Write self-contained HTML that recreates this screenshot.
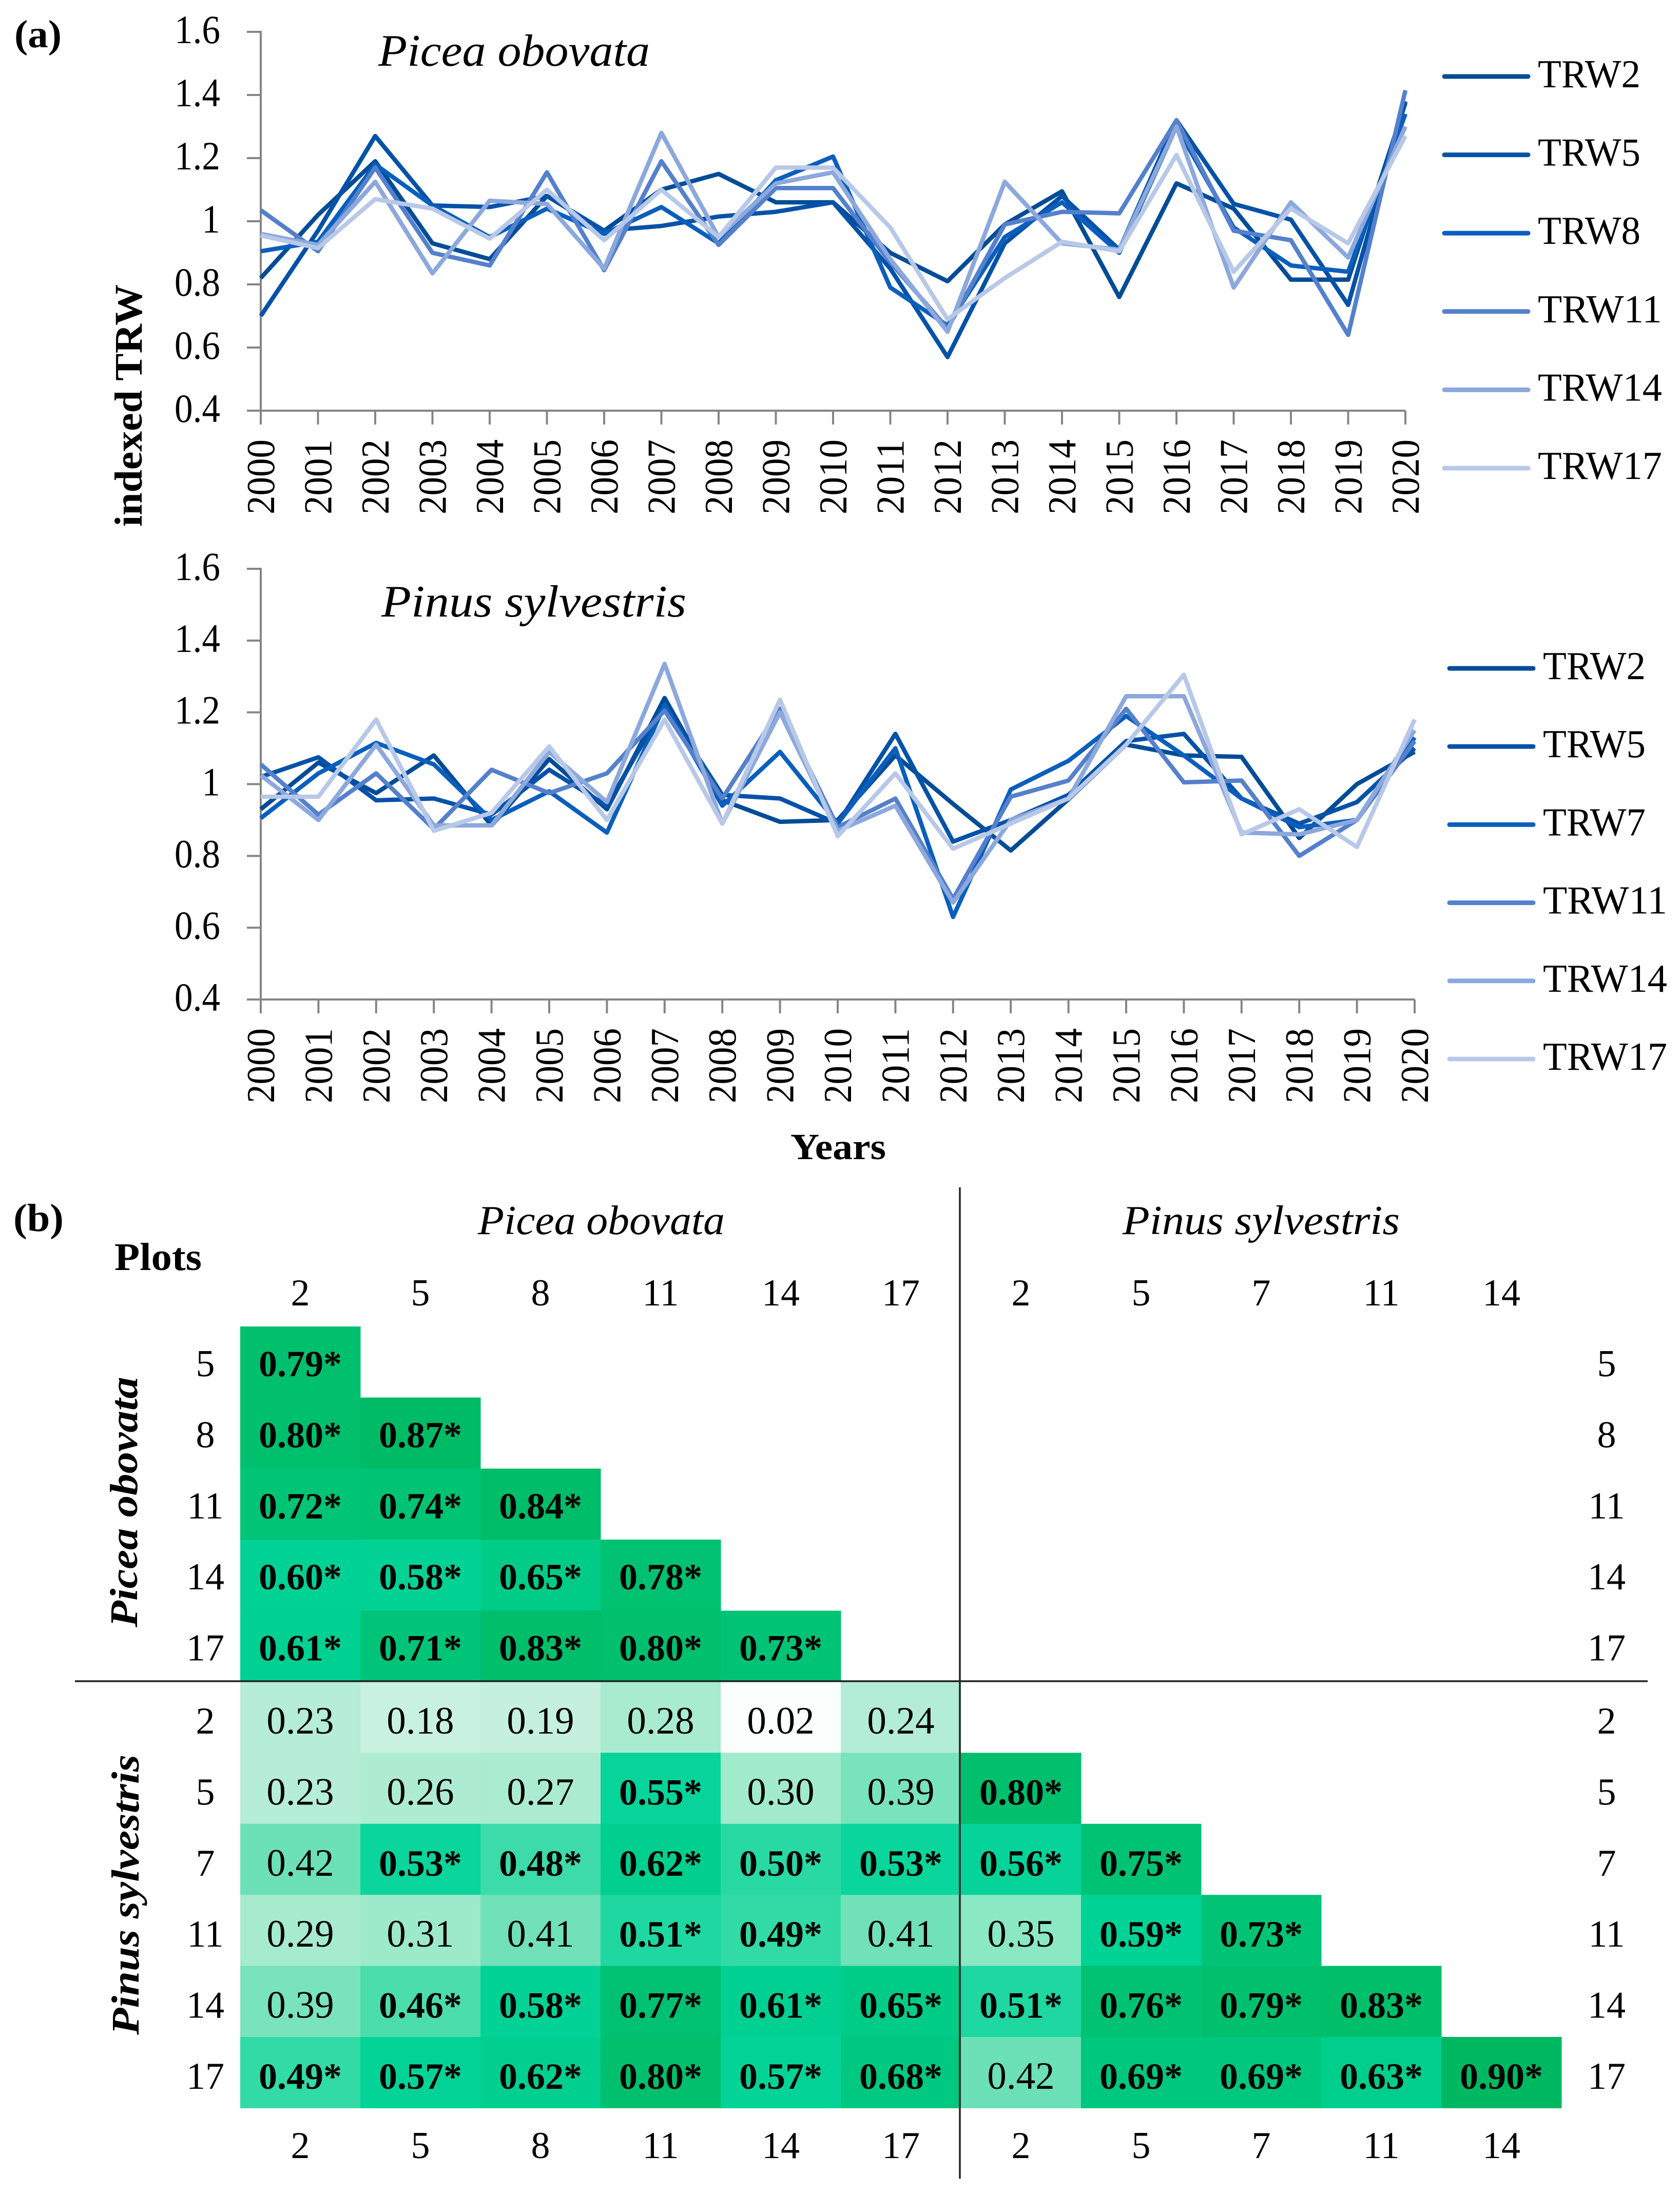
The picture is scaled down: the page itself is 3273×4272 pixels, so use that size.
<!DOCTYPE html>
<html lang="en">
<head>
<meta charset="utf-8">
<title>TRW indexed chronologies and correlation matrix</title>
<style>
html,body{margin:0;padding:0;background:#fff;}
svg{display:block;}
text{font-family:"Liberation Serif","DejaVu Serif",serif;fill:#000;}
</style>
</head>
<body>
<svg id="figure" xmlns="http://www.w3.org/2000/svg" width="3273" height="4272" viewBox="0 0 3273 4272">
  <rect x="0" y="0" width="3273" height="4272" fill="#ffffff"/>
  <text x="28" y="92" font-size="76" font-weight="bold" textLength="92" lengthAdjust="spacingAndGlyphs">(a)</text>
  <text x="26" y="2398" font-size="76" font-weight="bold" textLength="98" lengthAdjust="spacingAndGlyphs">(b)</text>
  <text x="737" y="128" font-size="88" font-style="italic" textLength="529" lengthAdjust="spacingAndGlyphs">Picea obovata</text>
  <text x="743" y="1201" font-size="88" font-style="italic" textLength="594" lengthAdjust="spacingAndGlyphs">Pinus sylvestris</text>
  <text transform="translate(276,1026) rotate(-90)" font-size="76" font-weight="bold" textLength="472" lengthAdjust="spacingAndGlyphs">indexed TRW</text>
  <text x="1540" y="2258" font-size="72" font-weight="bold" textLength="186" lengthAdjust="spacingAndGlyphs">Years</text>
  <text x="223" y="2474" font-size="76" font-weight="bold" textLength="170" lengthAdjust="spacingAndGlyphs">Plots</text>
  <text x="931" y="2404" font-size="80" font-style="italic" textLength="481" lengthAdjust="spacingAndGlyphs">Picea obovata</text>
  <text x="2187" y="2404" font-size="80" font-style="italic" textLength="540" lengthAdjust="spacingAndGlyphs">Pinus sylvestris</text>
  <text transform="translate(267,3170) rotate(-90)" font-size="76" font-style="italic" font-weight="bold" textLength="488" lengthAdjust="spacingAndGlyphs">Picea obovata</text>
  <text transform="translate(270,3964) rotate(-90)" font-size="76" font-style="italic" font-weight="bold" textLength="546" lengthAdjust="spacingAndGlyphs">Pinus sylvestris</text>
  <g id="charts"></g>
  <g id="matrix"></g>
</svg>
<script>
// ---- line chart data ----
const years = ["2000","2001","2002","2003","2004","2005","2006","2007","2008","2009","2010","2011","2012","2013","2014","2015","2016","2017","2018","2019","2020"];
const yTickValues = [0.4,0.6,0.8,1.0,1.2,1.4,1.6];
const yTickLabels = ["0.4","0.6","0.8","1","1.2","1.4","1.6"];
const seriesColors = ["#004c97","#0452a8","#0a5fbd","#5480cc","#8ca8dc","#b8c8e8"];

const piceaNames = ["TRW2","TRW5","TRW8","TRW11","TRW14","TRW17"];
const piceaTRW2  = [0.82,1.02,1.19,0.93,0.88,1.08,0.97,1.10,1.15,1.06,1.06,0.90,0.81,0.99,1.095,0.76,1.12,1.04,0.815,0.815,1.375];
const piceaTRW5  = [0.70,0.97,1.27,1.05,1.045,1.08,0.97,0.985,1.015,1.03,1.06,0.85,0.57,0.93,1.08,0.91,1.32,1.055,1.005,0.735,1.38];
const piceaTRW8  = [0.905,0.935,1.18,1.05,0.95,1.04,0.96,1.045,0.93,1.13,1.205,0.79,0.67,0.95,1.06,0.90,1.30,0.98,0.86,0.84,1.34];
const piceaTRW11 = [1.035,0.905,1.17,0.90,0.86,1.155,0.845,1.19,0.925,1.105,1.105,0.87,0.66,0.99,1.03,1.025,1.32,0.97,0.94,0.64,1.415];
const piceaTRW14 = [0.96,0.925,1.125,0.835,1.065,1.055,0.85,1.28,0.95,1.12,1.155,0.88,0.65,1.125,0.93,0.91,1.30,0.79,1.06,0.885,1.30];
const piceaTRW17 = [0.955,0.915,1.07,1.04,0.945,1.10,0.94,1.10,0.95,1.17,1.17,0.98,0.69,0.82,0.935,0.905,1.21,0.84,1.04,0.93,1.27];

const pinusNames = ["TRW2","TRW5","TRW7","TRW11","TRW14","TRW17"];
const pinusTRW2  = [0.93,1.06,0.975,1.08,0.885,1.07,0.93,1.24,0.955,0.895,0.90,1.08,0.945,0.815,0.958,1.11,1.08,1.076,0.85,1.00,1.09];
const pinusTRW5  = [1.02,1.075,0.955,0.96,0.915,1.04,0.94,1.22,0.97,0.96,0.89,1.14,0.84,0.90,0.97,1.12,1.14,0.96,0.89,0.95,1.10];
const pinusTRW7  = [0.905,1.03,1.115,1.055,0.90,0.98,0.865,1.22,0.94,1.09,0.89,1.10,0.63,0.985,1.065,1.19,1.08,0.96,0.88,0.90,1.13];
const pinusTRW11 = [1.055,0.915,1.03,0.875,1.04,0.975,1.03,1.205,0.96,1.21,0.88,0.96,0.68,0.965,1.01,1.21,1.005,1.01,0.80,0.90,1.12];
const pinusTRW14 = [1.025,0.90,1.11,0.885,0.885,1.09,0.95,1.335,0.89,1.20,0.87,0.94,0.67,0.90,0.96,1.245,1.245,0.865,0.86,0.90,1.15];
const pinusTRW17 = [0.965,0.965,1.18,0.87,0.92,1.105,0.90,1.18,0.89,1.235,0.855,1.03,0.82,0.89,0.96,1.11,1.305,0.86,0.93,0.825,1.18];

// ---- correlation matrix data ----
const columnLabels = ["2","5","8","11","14","17","2","5","7","11","14"];
const rowLabels = ["5","8","11","14","17","2","5","7","11","14","17"];
const correlationRows = [
  [0.79],
  [0.80,0.87],
  [0.72,0.74,0.84],
  [0.60,0.58,0.65,0.78],
  [0.61,0.71,0.83,0.80,0.73],
  [0.23,0.18,0.19,0.28,0.02,0.24],
  [0.23,0.26,0.27,0.55,0.30,0.39,0.80],
  [0.42,0.53,0.48,0.62,0.50,0.53,0.56,0.75],
  [0.29,0.31,0.41,0.51,0.49,0.41,0.35,0.59,0.73],
  [0.39,0.46,0.58,0.77,0.61,0.65,0.51,0.76,0.79,0.83],
  [0.49,0.57,0.62,0.80,0.57,0.68,0.42,0.69,0.69,0.63,0.90]
];
const significanceThreshold = 0.45;
const colorStopValues = [0.02,0.18,0.23,0.29,0.35,0.42,0.48,0.53,0.60,0.72,0.84,0.90];
const colorStopHex = ["#fafefc","#c9f1e0","#b5edd6","#a6ebce","#8ae8c3","#6ce0b6","#3cdba9","#0ad59c","#00d194","#00c476","#00bd69","#00b861"];

const NS = "http://www.w3.org/2000/svg";
function make(tag, parent, attrs, txt){
  const e = document.createElementNS(NS, tag);
  for (const k in attrs) e.setAttribute(k, attrs[k]);
  if (txt !== undefined) e.textContent = txt;
  parent.appendChild(e);
  return e;
}
function slug(s){ return s.toLowerCase(); }

function drawChart(cfg){
  const root = document.getElementById("charts");
  const g = make("g", root, {});
  
  
  const xScale = i => cfg.x0 + (cfg.x1 - cfg.x0) * i / (years.length - 1);
  const yScale = v => cfg.yBottom + (cfg.yTop - cfg.yBottom) * (v - 0.4) / 1.2;
  const axisStyle = {stroke:"#858585","stroke-width":4,fill:"none"};

  const yAxis = make("line", g, Object.assign({x1:cfg.x0,x2:cfg.x0,y1:yScale(1.6)-2,y2:yScale(0.4)+2}, axisStyle));
  
  
  const xAxis = make("line", g, Object.assign({x1:cfg.x0,x2:cfg.x1,y1:yScale(0.4),y2:yScale(0.4)}, axisStyle));
  
  

  yTickValues.forEach((v,i) => {
    const t = make("line", g, Object.assign({x1:cfg.x0-27,x2:cfg.x0,y1:yScale(v),y2:yScale(v)}, axisStyle));
    
    
    const lab = yTickLabels[i];
    const l = make("text", g, {x:429,y:yScale(v)+22,"font-size":78,"text-anchor":"end",textLength:lab.length>1?89:36,lengthAdjust:"spacingAndGlyphs"}, lab);
    
    
  });
  years.forEach((yr,i) => {
    const x = xScale(i);
    const t = make("line", g, Object.assign({x1:x,x2:x,y1:yScale(0.4),y2:yScale(0.4)+27}, axisStyle));
    
    
    const l = make("text", g, {transform:`translate(${x+26},${cfg.labelTop}) rotate(-90)`,"font-size":77,"text-anchor":"end",textLength:146,lengthAdjust:"spacingAndGlyphs"}, yr);
    
    
  });

  cfg.series.forEach((vals,si) => {
    const pts = vals.map((v,i) => xScale(i).toFixed(1) + "," + yScale(v).toFixed(1)).join(" ");
    const p = make("polyline", g, {points:pts,fill:"none",stroke:seriesColors[si],"stroke-width":8.5,"stroke-linejoin":"round"});
    
    
  });

  cfg.names.forEach((name,si) => {
    const y = cfg.legendTop + cfg.legendStep * si;
    const item = make("g", g, {});
    
    
    make("line", item, {x1:cfg.legendX+4,x2:cfg.legendX+167,y1:y,y2:y,stroke:seriesColors[si],"stroke-width":9,"stroke-linecap":"round"});
    const wide = name.length > 4;
    make("text", item, {x:cfg.legendX+186,y:y+21,"font-size":77,textLength:wide?242:200,lengthAdjust:"spacingAndGlyphs"}, name);
  });
}

drawChart({id:"picea",x0:508,x1:2738,yTop:62,yBottom:800,labelTop:856,legendX:2810,legendTop:149,legendStep:152.6,names:piceaNames,
  series:[piceaTRW2,piceaTRW5,piceaTRW8,piceaTRW11,piceaTRW14,piceaTRW17]});
drawChart({id:"pinus",x0:508,x1:2756,yTop:1108,yBottom:1947,labelTop:2003,legendX:2820,legendTop:1302,legendStep:152.2,names:pinusNames,
  series:[pinusTRW2,pinusTRW5,pinusTRW7,pinusTRW11,pinusTRW14,pinusTRW17]});

// ---- matrix ----
function hexRgb(h){ return [1,3,5].map(i => parseInt(h.substr(i,2),16)); }
function cellColor(v){
  const vs = colorStopValues, cs = colorStopHex;
  if (v <= vs[0]) return cs[0];
  for (let i = 1; i < vs.length; i++){
    if (v <= vs[i]){
      const t = (v - vs[i-1]) / (vs[i] - vs[i-1]);
      const a = hexRgb(cs[i-1]), b = hexRgb(cs[i]);
      return "rgb(" + a.map((c,k) => Math.round(c + (b[k]-c)*t)).join(",") + ")";
    }
  }
  return cs[cs.length-1];
}
const matrixRoot = document.getElementById("matrix");
const colX = c => 468 + 234 * c;
const rowY = r => 2584 + 138.4 * r;
const baseY = r => rowY(r) + (r >= 5 ? 101 : 97);

correlationRows.forEach((row,r) => {
  row.forEach((v,c) => {
    const rect = make("rect", matrixRoot, {x:colX(c),y:rowY(r),width:234.5,height:138.9,fill:cellColor(v)});
    
    
  });
});
correlationRows.forEach((row,r) => {
  row.forEach((v,c) => {
    const sig = v >= significanceThreshold;
    const label = v.toFixed(2) + (sig ? "*" : "");
    const t = make("text", matrixRoot, {x:colX(c)+117,y:baseY(r),"font-size":sig?72:75,"font-weight":sig?"bold":"normal","text-anchor":"middle"}, label);
    
    
  });
});
rowLabels.forEach((lab,r) => {
  const a = make("text", matrixRoot, {x:400,y:baseY(r),"font-size":74,"text-anchor":"middle"}, lab);
  
  
  const b = make("text", matrixRoot, {x:3130,y:baseY(r),"font-size":74,"text-anchor":"middle"}, lab);
  
  
});
columnLabels.forEach((lab,c) => {
  const a = make("text", matrixRoot, {x:colX(c)+117,y:2543,"font-size":74,"text-anchor":"middle"}, lab);
  
  
  const b = make("text", matrixRoot, {x:colX(c)+117,y:4204,"font-size":74,"text-anchor":"middle"}, lab);
  
  
});
const hLine = make("line", matrixRoot, {x1:146,x2:3210,y1:3275,y2:3275,stroke:"#222","stroke-width":3.5});


const vLine = make("line", matrixRoot, {x1:1870,x2:1870,y1:2313,y2:4244,stroke:"#222","stroke-width":3.5});


</script>
</body>
</html>
